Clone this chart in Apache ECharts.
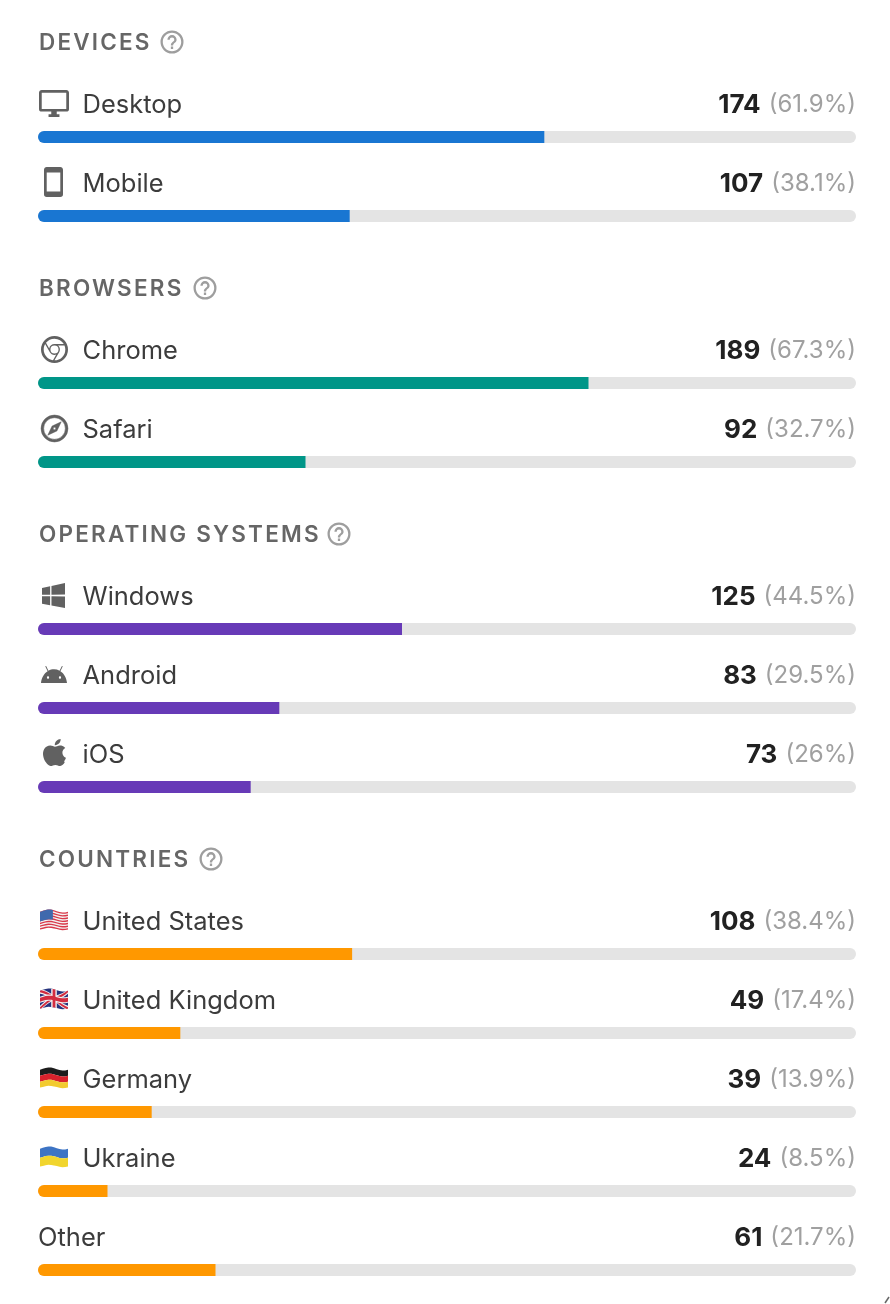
<!DOCTYPE html>
<html>
<head>
<meta charset="utf-8">
<title>Stats</title>
<style>
    html, body { margin: 0; padding: 0; background: #fff; }
    #main { width: 890px; height: 1304px; }
</style>
<script src="https://cdn.jsdelivr.net/npm/echarts@6/dist/echarts.min.js"></script>
</head>
<body>
<div id="main"></div>
<script>
// data
var sectionTitles = ["DEVICES", "BROWSERS", "OPERATING SYSTEMS", "COUNTRIES"];
var sectionColors = ["#1976d2", "#009688", "#673ab7", "#ff9800"];

var deviceNames = ["Desktop", "Mobile"];
var deviceCounts = [174, 107];
var devicePercents = [61.9, 38.1];

var browserNames = ["Chrome", "Safari"];
var browserCounts = [189, 92];
var browserPercents = [67.3, 32.7];

var osNames = ["Windows", "Android", "iOS"];
var osCounts = [125, 83, 73];
var osPercents = [44.5, 29.5, 26];

var countryNames = ["United States", "United Kingdom", "Germany", "Ukraine", "Other"];
var countryCounts = [108, 49, 39, 24, 61];
var countryPercents = [38.4, 17.4, 13.9, 8.5, 21.7];

var sections = [
    { names: deviceNames, counts: deviceCounts, percents: devicePercents },
    { names: browserNames, counts: browserCounts, percents: browserPercents },
    { names: osNames, counts: osCounts, percents: osPercents },
    { names: countryNames, counts: countryCounts, percents: countryPercents }
];

var FONT = "Inter, 'Noto Sans', sans-serif";
var BAR_LEFT = 38;
var BAR_WIDTH = 818;
var TITLE_ZLEVEL = 1;
var helpIconX = [172, 205, 339, 211];

// material style icon paths
var ICONS = {
    help: { d: "M11,18H13V16H11V18M12,2A10,10 0 0,0 2,12A10,10 0 0,0 12,22A10,10 0 0,0 22,12A10,10 0 0,0 12,2M12,20C7.59,20 4,16.41 4,12C4,7.59 7.59,4 12,4C16.41,4 20,7.59 20,12C20,16.41 16.41,20 12,20M12,6A4,4 0 0,0 8,10H10A2,2 0 0,1 12,8A2,2 0 0,1 14,10C14,12 11,11.75 11,15H13C13,12.75 16,12.5 16,10A4,4 0 0,0 12,6Z" },
    Desktop: { x: 39, y: -14, w: 30, h: 27, d: "M21,16H3V4H21M21,2H3C1.89,2 1,2.89 1,4V16A2,2 0 0,0 3,18H10V20H8V22H16V20H14V18H21A2,2 0 0,0 23,16V4C23,2.89 22.1,2 21,2Z" },
    Mobile: { x: 44, y: -16, w: 19, h: 30, d: "M17,19H7V5H17M17,1H7C5.89,1 5,1.89 5,3V21A2,2 0 0,0 7,23H17A2,2 0 0,0 19,21V3C19,1.89 18.1,1 17,1Z" },
    Chrome: { x: 41, y: -14, w: 27, h: 27, d: "M12,20L15.46,14H15.45C15.79,13.4 16,12.73 16,12C16,10.8 15.46,9.73 14.62,9H19.41C19.79,9.93 20,10.94 20,12A8,8 0 0,1 12,20M4,12C4,10.54 4.39,9.18 5.07,8L8.54,14H8.55C9.24,15.19 10.5,16 12,16C12.45,16 12.88,15.91 13.29,15.77L10.89,19.91C7,19.37 4,16.04 4,12M15,12A3,3 0 0,1 12,15A3,3 0 0,1 9,12A3,3 0 0,1 12,9A3,3 0 0,1 15,12M12,4C14.96,4 17.54,5.61 18.92,8H12C10.06,8 8.45,9.38 8.08,11.19L5.7,7.07C7.16,5.2 9.44,4 12,4M12,2A10,10 0 0,0 2,12A10,10 0 0,0 12,22A10,10 0 0,0 22,12A10,10 0 0,0 12,2Z" },
    Safari: { x: 41, y: -14, w: 27, h: 27, stroke: 0.35, d: "M7,17L10.2,10.2L17,7L13.8,13.8L7,17M12,11.1A0.9,0.9 0 0,0 11.1,12A0.9,0.9 0 0,0 12,12.9A0.9,0.9 0 0,0 12.9,12A0.9,0.9 0 0,0 12,11.1M12,2A10,10 0 0,1 22,12A10,10 0 0,1 12,22A10,10 0 0,1 2,12A10,10 0 0,1 12,2M12,4A8,8 0 0,0 4,12A8,8 0 0,0 12,20A8,8 0 0,0 20,12A8,8 0 0,0 12,4Z" },
    Windows: { x: 42, y: -13, w: 23, h: 25, d: "M3,12V6.75L9,5.43V11.91L3,12M20,3V11.75L10,11.9V5.21L20,3M3,13L9,13.09V19.9L3,18.75V13M20,13.25V22L10,20.09V13.1L20,13.25Z" },
    Android: { x: 41, y: -9, w: 26, h: 17, d: "M16.61 15.15C16.15 15.15 15.77 14.78 15.77 14.32S16.15 13.5 16.61 13.5H16.61C17.07 13.5 17.45 13.86 17.45 14.32C17.45 14.78 17.07 15.15 16.61 15.15M7.41 15.15C6.95 15.15 6.57 14.78 6.57 14.32C6.57 13.86 6.95 13.5 7.41 13.5H7.41C7.87 13.5 8.24 13.86 8.24 14.32C8.24 14.78 7.87 15.15 7.41 15.15M16.91 10.14L18.58 7.26C18.67 7.09 18.61 6.88 18.45 6.79C18.28 6.69 18.07 6.75 18 6.92L16.29 9.83C14.95 9.22 13.5 8.9 12 8.91C10.47 8.91 9 9.24 7.73 9.82L6.04 6.91C5.95 6.74 5.74 6.68 5.57 6.78C5.4 6.87 5.35 7.08 5.44 7.25L7.1 10.13C4.25 11.69 2.29 14.58 2 18H22C21.72 14.59 19.77 11.7 16.91 10.14H16.91Z" },
    iOS: { x: 43, y: -15, w: 23, h: 27, d: "M18.71 19.5c-.83 1.24-1.71 2.45-3.05 2.47-1.34.03-1.77-.79-3.29-.79-1.53 0-2 .77-3.27.82-1.31.05-2.3-1.32-3.14-2.53C4.25 17 2.94 12.45 4.7 9.39c.87-1.52 2.43-2.48 4.12-2.51 1.28-.02 2.5.87 3.29.87.78 0 2.26-1.07 3.68-.91.6.03 2.27.24 3.35 1.82-.09.06-2 1.17-1.98 3.5.03 2.78 2.43 3.7 2.46 3.71-.03.07-.38 1.32-1.26 2.6M13 3.5c.73-.83 1.94-1.46 2.94-1.5.13 1.17-.34 2.35-1.04 3.19-.69.85-1.83 1.51-2.95 1.42-.15-1.15.41-2.35 1.05-3.11z" }
};

// the graphic component has no plain path type, so register each icon as a shape
Object.keys(ICONS).forEach(function(key) {
    var Cls = echarts.graphic.extendPath(ICONS[key].d, {});
    echarts.graphic.registerShape("icon" + key, Cls);
    ICONS[key].box = new Cls().getBoundingRect();
});

var graphics = [];
var grids = [];
var xAxes = [];
var yAxes = [];
var seriesList = [];

function addText(x, y, text, font, color, scaleX, zlevel) {
    graphics.push({
        type: "text",
        silent: true,
        zlevel: zlevel || 0,
        x: x,
        y: y + 1,
        scaleX: scaleX || 1,
        style: {
            x: 0,
            y: 0,
            text: text,
            font: font,
            fill: color,
            align: "left",
            verticalAlign: "middle"
        }
    });
}

function addIcon(key, x, y, w, h, color) {
    var box = ICONS[key].box;
    var sx = w / box.width;
    var sy = h / box.height;
    var style = { fill: color };
    if (ICONS[key].stroke) {
        style.stroke = color;
        style.lineWidth = ICONS[key].stroke;
    }
    graphics.push({
        type: "icon" + key,
        silent: true,
        x: x - box.x * sx,
        y: y - box.y * sy,
        scaleX: sx,
        scaleY: sy,
        style: style
    });
}

// flag emoji are not installed, so draw small waving flags (u, v in 0..1)
function flagPolygon(x, y, pts, color) {
    var out = [];
    function warp(u, v) {
        return [x + u * 28, y + 3 + v * 18 + 1.5 * Math.sin(u * 6.28 + 2.6) * (1 - 0.2 * v)];
    }
    for (var i = 0; i < pts.length; i++) {
        var a = pts[i], b = pts[(i + 1) % pts.length];
        for (var k = 0; k < 10; k++) {
            out.push(warp(a[0] + (b[0] - a[0]) * k / 10, a[1] + (b[1] - a[1]) * k / 10));
        }
    }
    graphics.push({ type: "polygon", silent: true, shape: { points: out }, style: { fill: color } });
}

function flagRect(x, y, u0, v0, u1, v1, color) {
    flagPolygon(x, y, [[u0, v0], [u1, v0], [u1, v1], [u0, v1]], color);
}

var FLAGS = {
    "United States": function(x, y) {
        flagRect(x, y, 0, 0, 1, 1, "#f4f2f2");
        for (var i = 0; i < 13; i += 2) {
            flagRect(x, y, 0, i / 13, 1, (i + 1) / 13, "#d9394a");
        }
        flagRect(x, y, 0, 0, 0.46, 7 / 13, "#3f69ad");
    },
    "United Kingdom": function(x, y) {
        flagRect(x, y, 0, 0, 1, 1, "#26337d");
        flagPolygon(x, y, [[0, 0], [0.1, 0], [1, 0.84], [1, 1], [0.9, 1], [0, 0.16]], "#f2f0f0");
        flagPolygon(x, y, [[1, 0], [1, 0.16], [0.1, 1], [0, 1], [0, 0.84], [0.9, 0]], "#f2f0f0");
        flagPolygon(x, y, [[0, 0], [0.05, 0], [1, 0.92], [1, 1], [0.95, 1], [0, 0.08]], "#d22c40");
        flagPolygon(x, y, [[1, 0], [1, 0.08], [0.05, 1], [0, 1], [0, 0.92], [0.95, 0]], "#d22c40");
        flagRect(x, y, 0.4, 0, 0.6, 1, "#f2f0f0");
        flagRect(x, y, 0, 0.33, 1, 0.67, "#f2f0f0");
        flagRect(x, y, 0.45, 0, 0.55, 1, "#d22c40");
        flagRect(x, y, 0, 0.39, 1, 0.61, "#d22c40");
    },
    "Germany": function(x, y) {
        flagRect(x, y, 0, 0, 1, 0.34, "#1c1c1c");
        flagRect(x, y, 0, 0.34, 1, 0.67, "#d8222c");
        flagRect(x, y, 0, 0.67, 1, 1, "#f2cb30");
    },
    "Ukraine": function(x, y) {
        flagRect(x, y, 0, 0, 1, 0.5, "#3d74c4");
        flagRect(x, y, 0, 0.5, 1, 1, "#f1d52e");
    }
};

function addRow(s, name, count, percent, barTop) {
    var idx = grids.length;
    var textY = barTop - 27;

    grids.push({ left: BAR_LEFT, width: BAR_WIDTH, top: barTop, height: 12 });
    xAxes.push({ gridIndex: idx, type: "value", min: 0, max: 100, show: false });
    yAxes.push({ gridIndex: idx, type: "category", data: [name], show: false });
    seriesList.push({
        type: "bar",
        name: name,
        xAxisIndex: idx,
        yAxisIndex: idx,
        data: [percent],
        barWidth: 12,
        silent: true,
        animation: false,
        showBackground: true,
        backgroundStyle: { color: "#e4e4e4", borderRadius: 6 },
        itemStyle: { color: sectionColors[s], borderRadius: [6, 0, 0, 6] }
    });

    var icon = ICONS[name];
    if (icon) {
        addIcon(name, icon.x, textY + icon.y, icon.w, icon.h, "#616161");
    } else if (FLAGS[name]) {
        FLAGS[name](40, textY - 13);
    }

    addText(name === "Other" ? 38 : 82.5, textY, name, "400 25px " + FONT, "#3c3c3c", 1.02);

    graphics.push({
        type: "text",
        silent: true,
        x: 856,
        y: textY + 1,
        style: {
            x: 0,
            y: 0,
            text: "{n|" + count + "}{p|(" + percent + "%)}",
            align: "right",
            verticalAlign: "middle",
            rich: {
                n: { fontFamily: FONT, fontWeight: 700, fontSize: 26, fill: "#212121", padding: [0, 8, 0, 0] },
                p: { fontFamily: FONT, fontWeight: 400, fontSize: 24, fill: "#a0a0a0" }
            }
        }
    });
}

function buildLayout() {
    var y = 42;
    for (var s = 0; s < sections.length; s++) {
        var sec = sections[s];
        addText(39, y, sectionTitles[s], "600 22.5px " + FONT, "#666666", 1, TITLE_ZLEVEL);
        addIcon("help", helpIconX[s] - 11.5, y - 11.5, 23, 23, "#9e9e9e");
        var barTop = y + 89;
        for (var i = 0; i < sec.names.length; i++) {
            addRow(s, sec.names[i], sec.counts[i], sec.percents[i], barTop + 79 * i);
        }
        y = barTop + 79 * (sec.names.length - 1) + 78;
    }
}

buildLayout();

// small cut off mark in the corner of the screenshot
graphics.push({
    type: "line",
    silent: true,
    shape: { x1: 885, y1: 1303, x2: 889, y2: 1297 },
    style: { stroke: "#666666", lineWidth: 1.5 }
});

var myChart = echarts.init(document.getElementById("main"));

// zrender has no letter spacing option, section titles get their own layer for it
myChart.getZr().painter.getLayer(TITLE_ZLEVEL).ctx.letterSpacing = "2.2px";

myChart.setOption({
    backgroundColor: "#fff",
    animation: false,
    grid: grids,
    xAxis: xAxes,
    yAxis: yAxes,
    series: seriesList,
    graphic: { elements: graphics }
});
</script>
</body>
</html>
